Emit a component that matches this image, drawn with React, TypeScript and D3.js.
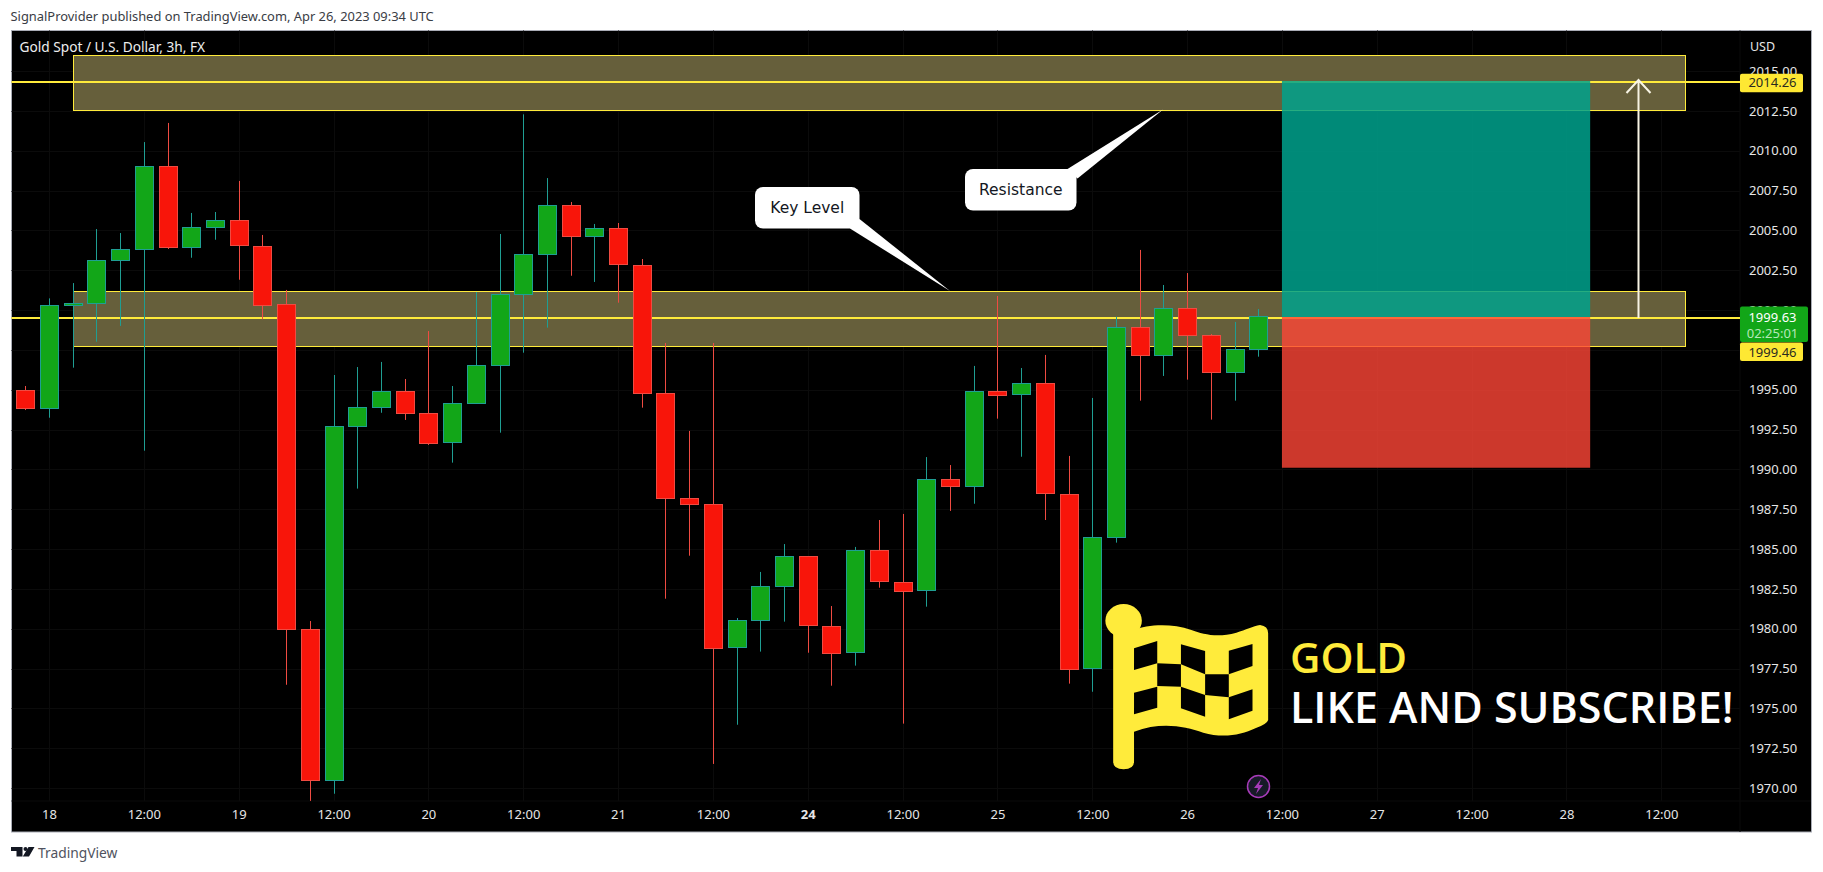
import { useEffect, useRef } from "react";
import * as d3 from "d3";

// Values, one entry per 3h candle.
const opens = [
  1994.96, 1993.81, 2000.27, 2000.42, 2003.12, 2003.81, 2009.02, 2003.91, 2005.19, 2005.63,
  2004.04, 2000.36, 1979.96, 1970.46, 1992.7, 1993.89, 1994.9, 1993.55, 1991.67, 1994.14,
  1996.53, 2000.99, 2003.5, 2006.57, 2004.6, 2005.13, 2002.84, 1994.81, 1988.22, 1987.84,
  1978.81, 1980.53, 1982.66, 1984.54, 1980.19, 1978.49, 1984.92, 1982.95, 1982.38, 1989.37,
  1988.91, 1994.9, 1994.68, 1995.4, 1988.47, 1977.51, 1985.73, 1998.91, 1997.13, 2000.11,
  1998.41, 1996.07, 1997.53,
];
const closes = [
  1993.81, 2000.3, 2000.42, 2003.12, 2003.81, 2009.02, 2003.91, 2005.19, 2005.63, 2004.04,
  2000.36, 1979.96, 1970.46, 1992.7, 1993.89, 1994.9, 1993.55, 1991.67, 1994.14, 1996.53,
  2000.99, 2003.5, 2006.57, 2004.6, 2005.13, 2002.84, 1994.81, 1988.22, 1987.84, 1978.81,
  1980.53, 1982.66, 1984.54, 1980.19, 1978.49, 1984.92, 1982.95, 1982.38, 1989.37, 1988.91,
  1994.9, 1994.68, 1995.4, 1988.47, 1977.51, 1985.73, 1998.91, 1997.13, 2000.11, 1998.41,
  1996.07, 1997.53, 1999.61,
];
const highs = [
  1995.23, 2000.73, 2001.69, 2005.08, 2004.83, 2010.54, 2011.74, 2006.09, 2006.15, 2008.1,
  2004.71, 2001.26, 1980.48, 1995.92, 1996.42, 1996.74, 1995.67, 1998.68, 1995.23, 2001.13,
  2004.77, 2012.28, 2008.28, 2006.78, 2005.4, 2005.46, 2003.2, 1997.93, 1992.41, 1997.93,
  1980.67, 1983.56, 1985.31, 1984.54, 1981.42, 1985.13, 1986.82, 1987.2, 1990.77, 1990.27,
  1996.49, 2000.88, 1996.36, 1997.18, 1990.84, 1994.48, 1999.58, 2003.77, 2001.57, 2002.32,
  1998.49, 1999.25, 2000.06,
];
const lows = [
  1993.72, 1993.24, 1996.38, 1998.01, 1999.0, 1991.17, 2003.83, 2003.28, 2004.41, 2001.9,
  1999.42, 1976.48, 1969.19, 1969.64, 1988.79, 1993.55, 1993.1, 1991.53, 1990.42, 1994.14,
  1992.3, 1997.32, 1998.89, 2002.15, 2001.76, 2000.46, 1993.87, 1981.88, 1984.58, 1971.51,
  1973.97, 1978.56, 1980.44, 1978.49, 1976.42, 1977.68, 1982.57, 1974.04, 1981.38, 1987.39,
  1987.84, 1993.18, 1990.79, 1986.82, 1976.55, 1976.04, 1985.4, 1994.31, 1995.86, 1995.63,
  1993.12, 1994.31, 1997.07,
];

const priceTicks = [
  1970, 1972.5, 1975, 1977.5, 1980, 1982.5, 1985, 1987.5, 1990, 1992.5, 1995, 1997.5, 2000,
  2002.5, 2005, 2007.5, 2010, 2012.5, 2015,
];
const timeTickIndexes = [1, 5, 9, 13, 17, 21, 25, 29, 33, 37, 41, 45, 49, 53, 57, 61, 65, 69];
const timeTickLabels = [
  "18", "12:00", "19", "12:00", "20", "12:00", "21", "12:00", "24", "12:00", "25", "12:00",
  "26", "12:00", "27", "12:00", "28", "12:00",
];

const zoneStart = 2;
const zoneEnd = 70;
const resistanceZone = [2012.53, 2016.0];
const keyLevelZone = [1997.72, 2001.19];
const targetLevel = 2014.26;
const entryLevel = 1999.46;
const lastPrice = 1999.63;
const stopLevel = 1990.1;
const positionStart = 53;
const positionEnd = 66;
const arrowIndex = 68;
const keyLevelTipIndex = 39;
const resistanceTipIndex = 48;
const resistanceTipValue = 2012.6;

const WIDTH = 1823;
const HEIGHT = 872;
const AXIS_FONT = "'Noto Sans', sans-serif";
const YELLOW = "#ffeb3b";
const CANDLE_UP = "#12a618";
const CANDLE_DOWN = "#f8150a";
const WICK_UP = "#1f9e93";
const WICK_DOWN = "#ef4b42";

export default function App() {
  const ref = useRef<SVGSVGElement>(null);

  useEffect(() => {
    if (!ref.current) return;
    document.body.style.margin = "0";
    const svg = d3.select(ref.current);
    svg.selectAll("*").remove();

    const paneLeft = 11.5;
    const paneTop = 30.5;
    const paneRight = 1740;
    const paneBottom = 801;

    const x = d3.scaleLinear().domain([0, 69]).range([25.3, 1661.3]);
    const y = d3.scaleLinear().domain([1970, 2015]).range([788, 71]);
    const px = (v: number) => Math.round(v) + 0.5;
    const levelY = (v: number) => Math.round(y(v) - 0.3);

    svg.append("rect").attr("width", WIDTH).attr("height", HEIGHT).attr("fill", "#fff");

    svg
      .append("text")
      .attr("x", 10.5)
      .attr("y", 21)
      .attr("font-family", "'Noto Sans', sans-serif")
      .attr("font-size", 12.9)
      .attr("fill", "#3a3d45")
      .text("SignalProvider published on TradingView.com, Apr 26, 2023 09:34 UTC");

    svg
      .append("rect")
      .attr("x", paneLeft)
      .attr("y", paneTop)
      .attr("width", 1811.5 - paneLeft)
      .attr("height", 832 - paneTop)
      .attr("fill", "#000")
      .attr("stroke", "#a9acb5");

    // Barely visible grid.
    const grid = svg.append("g").attr("stroke", "#0b0b0b").attr("stroke-width", 1);
    timeTickIndexes.forEach((d) => {
      grid.append("line").attr("x1", px(x(d))).attr("x2", px(x(d))).attr("y1", paneTop).attr("y2", paneBottom);
    });
    priceTicks.forEach((d) => {
      grid.append("line").attr("x1", paneLeft).attr("x2", paneRight).attr("y1", px(y(d))).attr("y2", px(y(d)));
    });
    grid.append("line").attr("x1", paneRight).attr("x2", paneRight).attr("y1", paneTop).attr("y2", 832);
    grid.append("line").attr("x1", paneLeft).attr("x2", 1811).attr("y1", paneBottom).attr("y2", paneBottom);

    // Price axis.
    const priceAxis = svg
      .append("g")
      .attr("transform", `translate(${paneRight},0)`)
      .call(d3.axisRight(y).tickValues(priceTicks).tickFormat(d3.format(".2f")).tickSize(0).tickPadding(9));
    priceAxis.select(".domain").remove();
    priceAxis.selectAll("text").attr("font-family", AXIS_FONT).attr("font-size", 13).attr("fill", "#e6e6e6");

    // Time axis.
    const timeAxis = svg
      .append("g")
      .attr("transform", `translate(0,${paneBottom})`)
      .call(
        d3
          .axisBottom(x)
          .tickValues(timeTickIndexes)
          .tickFormat((_, i) => timeTickLabels[i])
          .tickSize(0)
          .tickPadding(9)
      );
    timeAxis.select(".domain").remove();
    timeAxis
      .selectAll("text")
      .attr("font-family", AXIS_FONT)
      .attr("font-size", 13)
      .attr("fill", "#e6e6e6")
      .attr("font-weight", (_, i) => (timeTickLabels[i] === "24" ? 700 : 400));

    svg
      .append("text")
      .attr("x", 1762.5)
      .attr("y", 50.5)
      .attr("text-anchor", "middle")
      .attr("font-family", AXIS_FONT)
      .attr("font-size", 12.5)
      .attr("fill", "#e6e6e6")
      .text("USD");

    svg
      .append("text")
      .attr("x", 19.5)
      .attr("y", 52)
      .attr("font-family", AXIS_FONT)
      .attr("font-size", 13.7)
      .attr("fill", "#eeeeee")
      .text("Gold Spot / U.S. Dollar, 3h, FX");

    // Zones and horizontal levels sit under the candles.
    [resistanceZone, keyLevelZone].forEach(([lo, hi]) => {
      svg
        .append("rect")
        .attr("x", px(x(zoneStart)))
        .attr("y", px(y(hi)))
        .attr("width", Math.round(x(zoneEnd) - x(zoneStart)))
        .attr("height", Math.round(y(lo) - y(hi)))
        .attr("fill", "#665f3b")
        .attr("stroke", YELLOW)
        .attr("stroke-width", 1);
    });
    [targetLevel, entryLevel].forEach((level) => {
      svg
        .append("line")
        .attr("x1", paneLeft)
        .attr("x2", paneRight)
        .attr("y1", levelY(level))
        .attr("y2", levelY(level))
        .attr("stroke", YELLOW)
        .attr("stroke-width", 2);
    });

    // Candles.
    const candles = svg
      .append("g")
      .selectAll("g")
      .data(opens.map((open, i) => ({ i, open, close: closes[i], high: highs[i], low: lows[i] })))
      .join("g");
    candles
      .append("line")
      .attr("x1", (d) => px(x(d.i)))
      .attr("x2", (d) => px(x(d.i)))
      .attr("y1", (d) => y(d.high))
      .attr("y2", (d) => y(d.low))
      .attr("stroke", (d) => (d.close >= d.open ? WICK_UP : WICK_DOWN));
    candles
      .append("rect")
      .attr("x", (d) => px(x(d.i)) - 9)
      .attr("y", (d) => px(y(Math.max(d.open, d.close))))
      .attr("width", 18)
      .attr("height", (d) => Math.max(1, Math.round(Math.abs(y(d.open) - y(d.close)))))
      .attr("fill", (d) => (d.close >= d.open ? CANDLE_UP : CANDLE_DOWN))
      .attr("stroke", (d) => (d.close >= d.open ? WICK_UP : WICK_DOWN));

    // Long position tool.
    svg
      .append("rect")
      .attr("x", x(positionStart))
      .attr("y", levelY(targetLevel) - 1)
      .attr("width", x(positionEnd) - x(positionStart))
      .attr("height", levelY(entryLevel) - levelY(targetLevel))
      .attr("fill", "rgb(0,162,141)")
      .attr("fill-opacity", 0.85);
    svg
      .append("rect")
      .attr("x", x(positionStart))
      .attr("y", levelY(entryLevel) - 1)
      .attr("width", x(positionEnd) - x(positionStart))
      .attr("height", y(stopLevel) - levelY(entryLevel) + 1)
      .attr("fill", "rgb(255,70,55)")
      .attr("fill-opacity", 0.8);

    // Arrow from entry to target.
    const arrowX = px(x(arrowIndex));
    const arrowTop = levelY(targetLevel) - 2;
    svg
      .append("path")
      .attr("d", `M${arrowX},${levelY(entryLevel)}V${arrowTop}M${arrowX - 12},${arrowTop + 13}L${arrowX},${arrowTop}L${arrowX + 12},${arrowTop + 13}`)
      .attr("fill", "none")
      .attr("stroke", "#f8f4e4")
      .attr("stroke-width", 2);

    // Callouts.
    const callout = (
      label: string,
      box: [number, number, number, number],
      base: [number, number, number, number],
      tip: [number, number]
    ) => {
      const g = svg.append("g");
      g.append("rect")
        .attr("x", box[0])
        .attr("y", box[1])
        .attr("width", box[2])
        .attr("height", box[3])
        .attr("rx", 8)
        .attr("fill", "#fff");
      g.append("path")
        .attr("d", `M${base[0]},${base[1]}L${tip[0]},${tip[1]}L${base[2]},${base[3]}Z`)
        .attr("fill", "#fff");
      g.append("text")
        .attr("x", box[0] + box[2] / 2)
        .attr("y", box[1] + box[3] / 2 + 5.5)
        .attr("text-anchor", "middle")
        .attr("font-family", "'DejaVu Sans', sans-serif")
        .attr("font-size", 15.5)
        .attr("fill", "#131722")
        .text(label);
    };
    callout("Key Level", [755, 187, 104.5, 41.5], [859.5, 219, 850, 228.5], [x(keyLevelTipIndex), y(keyLevelZone[1])]);
    callout("Resistance", [965, 169, 111.5, 41.5], [1067.5, 169, 1077.5, 178.5], [x(resistanceTipIndex), y(resistanceTipValue)]);

    // Right-hand price labels.
    const priceLabel = (top: number, h: number, w: number, fill: string) =>
      svg.append("rect").attr("x", paneRight).attr("y", top).attr("width", w).attr("height", h).attr("rx", 2).attr("fill", fill);
    const labelText = (text: string, cy: number, fill: string) =>
      svg
        .append("text")
        .attr("x", 1772.5)
        .attr("y", cy)
        .attr("dy", "0.36em")
        .attr("text-anchor", "middle")
        .attr("font-family", AXIS_FONT)
        .attr("font-size", 13)
        .attr("fill", fill)
        .text(text);
    priceLabel(y(targetLevel) - 9, 18.5, 63, "#fee833");
    labelText(d3.format(".2f")(targetLevel), y(targetLevel), "#2a2a20");
    priceLabel(342.5, 18.5, 63, "#fee833");
    labelText(d3.format(".2f")(entryLevel), 352, "#2a2a20");
    priceLabel(306.5, 35.5, 68, CANDLE_UP);
    labelText(d3.format(".2f")(lastPrice), 317.5, "#ffffff");
    labelText("02:25:01", 333, "#b5e8b8");

    // Checkered flag overlay, outlined in its own small coordinate box.
    const flag = svg.append("g").attr("transform", "translate(1080,580) scale(0.4739,0.3333)");
    flag.append("ellipse").attr("cx", 92).attr("cy", 122).attr("rx", 38.5).attr("ry", 50).attr("fill", YELLOW);
    flag
      .append("path")
      .attr(
        "d",
        "M114,150C140,135 190,128 235,150C260,163 290,174 330,158C350,150 365,138 380,135Q397,138 397,160L397,420Q395,432 370,445C340,466 300,475 260,458C220,438 170,425 114,455L114,545Q114,568 92,568Q70,568 70,545L70,150Z"
      )
      .attr("fill", YELLOW);
    [
      "M114,205L163,183L163,250L114,270Z",
      "M213,193L264,213L264,283L213,253Z",
      "M314,212L364,192L364,258L314,283Z",
      "M163,250L213,253L213,320L163,318Z",
      "M264,283L314,283L314,352L264,345Z",
      "M114,338L163,320L163,383L114,403Z",
      "M213,320L264,345L264,410L213,385Z",
      "M314,352L364,328L364,392L314,418Z",
    ].forEach((d) => flag.append("path").attr("d", d).attr("fill", "#000"));

    svg
      .append("text")
      .attr("x", 1290)
      .attr("y", 673)
      .attr("font-family", "'Open Sans', sans-serif")
      .attr("font-weight", 600)
      .attr("font-size", 42)
      .attr("fill", YELLOW)
      .text("GOLD");
    svg
      .append("text")
      .attr("x", 1290)
      .attr("y", 723)
      .attr("font-family", "'Open Sans', sans-serif")
      .attr("font-weight", 600)
      .attr("font-size", 43)
      .attr("fill", "#ffffff")
      .text("LIKE AND SUBSCRIBE!");

    // Dividend / event badge.
    svg
      .append("circle")
      .attr("cx", 1258.5)
      .attr("cy", 786.5)
      .attr("r", 11)
      .attr("fill", "#171a27")
      .attr("stroke", "#a63bb8")
      .attr("stroke-width", 1.5);
    svg
      .append("path")
      .attr("d", "M1261,779L1254,788H1258L1256,794L1263,785H1259Z")
      .attr("fill", "#a63bb8");

    // TradingView footer mark.
    svg
      .append("path")
      .attr("d", "M11,847H22.5V856.5H16.5V851H11ZM28.5,847H34.5L29,856.5H22.8Z")
      .attr("fill", "#131722");
    svg.append("circle").attr("cx", 25.5).attr("cy", 849).attr("r", 2).attr("fill", "#131722");
    svg
      .append("text")
      .attr("x", 38)
      .attr("y", 857.5)
      .attr("font-family", "'Noto Sans', sans-serif")
      .attr("font-size", 13.8)
      .attr("fill", "#50535e")
      .text("TradingView");
  }, []);

  return (
    <svg
      ref={ref}
      width={WIDTH}
      height={HEIGHT}
      viewBox={`0 0 ${WIDTH} ${HEIGHT}`}
      style={{ position: "absolute", left: 0, top: 0, display: "block" }}
    />
  );
}
